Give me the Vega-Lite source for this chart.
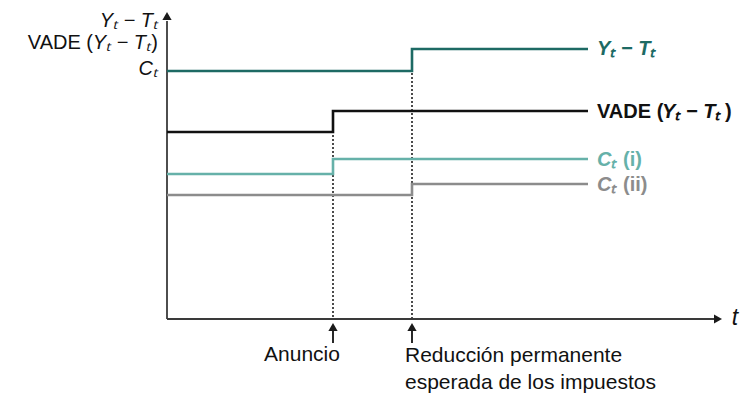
{
  "$schema": "https://vega.github.io/schema/vega-lite/v6.json",
  "width": 744,
  "height": 394,
  "autosize": {"type": "fit", "contains": "padding"},
  "padding": 0,
  "background": "white",
  "config": {"view": {"stroke": null}, "text": {"font": "Liberation Sans"}},
  "datasets": {
    "series": [
      {"s": "Y-T", "t": 0, "v": 24.8}, {"s": "Y-T", "t": 24.5, "v": 27.0}, {"s": "Y-T", "t": 42.1, "v": 27.0},
      {"s": "VADE", "t": 0, "v": 18.7}, {"s": "VADE", "t": 16.6, "v": 20.8}, {"s": "VADE", "t": 42.1, "v": 20.8},
      {"s": "Ci", "t": 0, "v": 14.5}, {"s": "Ci", "t": 16.6, "v": 16.0}, {"s": "Ci", "t": 42.1, "v": 16.0},
      {"s": "Cii", "t": 0, "v": 12.4}, {"s": "Cii", "t": 24.5, "v": 13.5}, {"s": "Cii", "t": 42.1, "v": 13.5}
    ],
    "events": [
      {"t": 16.6, "top": 20.8, "bottom": 0, "lo": -2.4, "hi": -0.6},
      {"t": 24.5, "top": 27.0, "bottom": 0, "lo": -2.4, "hi": -0.6}
    ],
    "axes": [
      {"t": 0, "t2": 54.9, "v": 0, "v2": 0},
      {"t": 0, "t2": 0, "v": 0, "v2": 29.8}
    ],
    "heads": [
      {"dir": "right", "t": 55.1, "v": 0},
      {"dir": "up", "t": 0, "v": 30.3},
      {"dir": "up", "t": 16.6, "v": -0.8},
      {"dir": "up", "t": 24.5, "v": -0.8}
    ],
    "labels": [
      {"g": "li", "s": "neg", "t": -0.9, "v": 29.8, "text": "Yₜ − Tₜ"},
      {"g": "lu", "s": "neg", "t": -0.9, "v": 27.6, "text": ")"},
      {"g": "li", "s": "neg", "t": -1.6, "v": 27.6, "text": "Yₜ − Tₜ"},
      {"g": "lu", "s": "neg", "t": -7.4, "v": 27.6, "text": "VADE ("},
      {"g": "li", "s": "neg", "t": -0.9, "v": 25.0, "text": "Cₜ"},
      {"g": "ri", "s": "Y-T", "t": 43.0, "v": 27.0, "text": "Yₜ − Tₜ"},
      {"g": "ru", "s": "VADE", "t": 43.0, "v": 20.7, "text": "VADE ("},
      {"g": "ri", "s": "VADE", "t": 49.5, "v": 20.7, "text": "Yₜ − Tₜ"},
      {"g": "ru", "s": "VADE", "t": 55.8, "v": 20.7, "text": ")"},
      {"g": "ri", "s": "Ci", "t": 43.0, "v": 15.9, "text": "Cₜ"},
      {"g": "ru", "s": "Ci", "t": 45.6, "v": 15.9, "text": "(i)"},
      {"g": "ri", "s": "Cii", "t": 43.0, "v": 13.4, "text": "Cₜ"},
      {"g": "ru", "s": "Cii", "t": 45.6, "v": 13.4, "text": "(ii)"}
    ],
    "bottom": [
      {"s": "neg", "t": 13.5, "v": -3.6, "text": "Anuncio", "a": "c"},
      {"s": "neg", "t": 23.8, "v": -3.7, "text": "Reducción permanente", "a": "l"},
      {"s": "neg", "t": 23.8, "v": -6.4, "text": "esperada de los impuestos", "a": "l"}
    ],
    "tlabel": [{"s": "neg", "t": 56.8, "v": 0.1, "text": "t"}]
  },
  "encoding": {
    "x": {"field": "t", "type": "quantitative", "scale": {"domain": [-16.7, 57.7], "nice": false, "zero": false}, "axis": null},
    "y": {"field": "v", "type": "quantitative", "scale": {"domain": [-7.5, 31.9], "nice": false, "zero": false}, "axis": null}
  },
  "layer": [
    {
      "data": {"name": "events"},
      "mark": {"type": "rule", "strokeDash": [2, 2], "strokeWidth": 1.5, "color": "#111111"},
      "encoding": {"y": {"field": "top", "type": "quantitative"}, "y2": {"field": "bottom"}}
    },
    {
      "data": {"name": "events"},
      "mark": {"type": "rule", "strokeWidth": 1.8, "color": "#111111"},
      "encoding": {"y": {"field": "lo", "type": "quantitative"}, "y2": {"field": "hi"}}
    },
    {
      "data": {"name": "axes"},
      "mark": {"type": "rule", "strokeWidth": 1.8, "color": "#3a3a3a"},
      "encoding": {"x2": {"field": "t2"}, "y2": {"field": "v2"}}
    },
    {
      "data": {"name": "series"},
      "mark": {"type": "line", "interpolate": "step-after", "strokeCap": "butt"},
      "encoding": {
        "color": {"field": "s", "type": "nominal", "scale": {"domain": ["Y-T", "VADE", "Ci", "Cii", "neg"], "range": ["#1d6a64", "#111111", "#66b1a9", "#8c8c8c", "#111111"]}, "legend": null},
        "strokeWidth": {"field": "s", "type": "nominal", "scale": {"domain": ["Y-T", "VADE", "Ci", "Cii"], "range": [2.6, 2.6, 2.0, 2.2]}, "legend": null}
      }
    },
    {
      "data": {"name": "heads"},
      "mark": {"type": "point", "filled": true, "opacity": 1, "color": "#1a1a1a", "size": 85},
      "encoding": {
        "shape": {"field": "dir", "type": "nominal", "scale": {"domain": ["up", "right"], "range": ["triangle-up", "triangle-right"]}, "legend": null}
      }
    },
    {
      "data": {"name": "labels"},
      "transform": [{"filter": "datum.g === 'li'"}],
      "mark": {"type": "text", "align": "right", "baseline": "middle", "fontSize": 20, "fontStyle": "italic"},
      "encoding": {"text": {"field": "text"}, "color": {"field": "s", "type": "nominal", "legend": null}}
    },
    {
      "data": {"name": "labels"},
      "transform": [{"filter": "datum.g === 'lu'"}],
      "mark": {"type": "text", "align": "right", "baseline": "middle", "fontSize": 20},
      "encoding": {"text": {"field": "text"}, "color": {"field": "s", "type": "nominal", "legend": null}}
    },
    {
      "data": {"name": "labels"},
      "transform": [{"filter": "datum.g === 'ri'"}],
      "mark": {"type": "text", "align": "left", "baseline": "middle", "fontSize": 20, "fontStyle": "italic", "fontWeight": "bold"},
      "encoding": {"text": {"field": "text"}, "color": {"field": "s", "type": "nominal", "legend": null}}
    },
    {
      "data": {"name": "labels"},
      "transform": [{"filter": "datum.g === 'ru'"}],
      "mark": {"type": "text", "align": "left", "baseline": "middle", "fontSize": 20, "fontWeight": "bold"},
      "encoding": {"text": {"field": "text"}, "color": {"field": "s", "type": "nominal", "legend": null}}
    },
    {
      "data": {"name": "bottom"},
      "transform": [{"filter": "datum.a === 'c'"}],
      "mark": {"type": "text", "align": "center", "baseline": "middle", "fontSize": 21},
      "encoding": {"text": {"field": "text"}, "color": {"field": "s", "type": "nominal", "legend": null}}
    },
    {
      "data": {"name": "bottom"},
      "transform": [{"filter": "datum.a === 'l'"}],
      "mark": {"type": "text", "align": "left", "baseline": "middle", "fontSize": 21},
      "encoding": {"text": {"field": "text"}, "color": {"field": "s", "type": "nominal", "legend": null}}
    },
    {
      "data": {"name": "tlabel"},
      "mark": {"type": "text", "align": "center", "baseline": "middle", "fontSize": 23, "fontStyle": "italic"},
      "encoding": {"text": {"field": "text"}, "color": {"field": "s", "type": "nominal", "legend": null}}
    }
  ]
}
